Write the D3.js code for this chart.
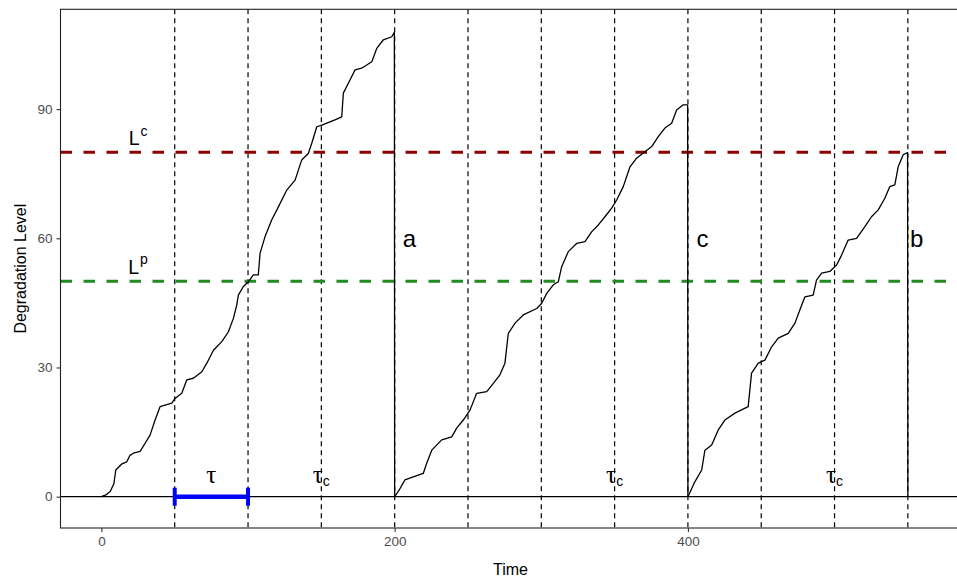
<!DOCTYPE html>
<html>
<head>
<meta charset="utf-8">
<script src="https://cdn.jsdelivr.net/npm/d3@7"></script>
<style>
  body { margin: 0; background: #fff; }
  svg { display: block; font-family: "Liberation Sans", Arial, sans-serif; }
</style>
</head>
<body>
<div id="chart"></div>
<script>
// degradation path, one array per renewal cycle: [time, level]
var cycle1 = [[0,0],[3,0.4],[6,1.2],[8.5,3],[9.8,6.2],[13.9,7.6],[17.3,8.1],[19.5,9.6],[21.8,10.1],[26.4,10.5],[29.8,12.4],
  [33.2,14.3],[36.6,17.8],[40,20.9],[48,21.7],[50.2,22.8],[54.8,24],[58.2,27.1],[62.7,27.5],
  [68.5,29],[71.9,31],[76.4,34],[82.1,36],[86.6,38.3],[90,41.4],[92.3,44.5],[93.4,46.8],
  [96.8,48.8],[100.2,49.9],[103.6,51.5],[107,51.5],[108.2,56.5],[111.6,60.4],[116.2,64.3],
  [120.7,67.3],[126.4,71.2],[132.1,73.5],[136.6,78.2],[141.1,79.7],[143.4,82],[146.9,85.9],
  [150.3,86.3],[159.3,87.5],[163.9,88.2],[165,93.7],[168.4,96],[173,99.1],[177.5,99.5],
  [184.4,101],[187.8,104.1],[192.3,106.1],[198,106.8],[199.8,107.8],[200,0]];
var cycle2 = [[200,0],[203,1.5],[207,3.9],[212.7,4.6],[219.5,5.4],[221.9,7.8],[225.3,10.8],
  [232.1,13.2],[238.9,13.9],[242.3,15.9],[246.8,17.8],[251.4,20.1],[255.9,24],[262.8,24.4],
  [267.3,26.3],[271.8,28.3],[275.2,31],[277.5,37.9],[282.1,40.3],[287.7,42.2],[296.9,43.7],
  [300.3,44.9],[303.7,47.2],[308.2,49.2],[311.6,49.9],[313.9,53.4],[318.4,56.9],[324.1,58.8],
  [329.8,59.2],[334.3,61.5],[338.9,63.1],[343.4,65],[348,67],[351.4,68.9],[355.9,72],
  [360.5,76.6],[365,78.6],[370.7,80.1],[375.3,81.3],[379.8,83.6],[384.3,85.6],[388.9,86.7],
  [392.3,89.8],[396.8,91],[399.8,91],[400,0]];
var cycle3 = [[400,0],[404.8,3.5],[409.4,6.2],[411.6,10.8],[416.2,12],[420.7,15.5],[425.2,17.8],
  [432.1,19.4],[441.1,20.9],[443.4,28.7],[448,31],[452.5,31.7],[457.1,34.8],[461.6,36.8],
  [468.4,37.9],[473,40.3],[476.4,43.4],[479.8,46.4],[485.4,46.8],[487.7,50.3],[491.2,51.9],
  [496.8,52.3],[501.4,53.8],[504.8,56.1],[509.3,59.6],[515,60],[520.7,62.7],[525.2,65],
  [529.8,66.6],[534.3,69.3],[537.7,72],[541.1,72.4],[543.4,76.6],[546.8,79.4],[549.8,79.9],[550,0]];

var inspectTimes = [50, 100, 150, 200, 250, 300, 350, 400, 450, 500, 550];
var thresholdPM = 50, thresholdCM = 80;
var tauBar = [50, 100];
var xTicks = [0, 200, 400], yTicks = [0, 30, 60, 90];
var eventLabels = [{t: 210, v: 60, text: "a"}, {t: 410, v: 60, text: "c"}, {t: 556, v: 60, text: "b"}];
var tauLabels = [{t: 75, sub: ""}, {t: 150, sub: "c"}, {t: 350, sub: "c"}, {t: 500, sub: "c"}];

var width = 957, height = 577;
var panel = {left: 60.5, right: 960.5, top: 9.3, bottom: 528};

var svg = d3.select("#chart").append("svg")
  .attr("width", width).attr("height", height);

// ggplot style 5% expansion
var xData = [0, 558], yData = [-1.8, 107.7];
var xs = (xData[1] - xData[0]) * 0.05, ys = (yData[1] - yData[0]) * 0.05;
var x = d3.scaleLinear().domain([xData[0] - xs, xData[1] + xs]).range([panel.left, panel.right]);
var y = d3.scaleLinear().domain([yData[0] - ys, yData[1] + ys]).range([panel.bottom, panel.top]);

svg.append("clipPath").attr("id", "clip").append("rect")
  .attr("x", panel.left).attr("y", panel.top)
  .attr("width", panel.right - panel.left).attr("height", panel.bottom - panel.top);

var plot = svg.append("g").attr("clip-path", "url(#clip)");

// y = 0 line
plot.append("line")
  .attr("x1", panel.left).attr("x2", panel.right)
  .attr("y1", y(0)).attr("y2", y(0))
  .attr("stroke", "black").attr("stroke-width", 1.1);

// inspection times
plot.selectAll(".insp").data(inspectTimes).enter().append("line")
  .attr("class", "insp")
  .attr("x1", d => x(d)).attr("x2", d => x(d))
  .attr("y1", panel.top).attr("y2", panel.bottom)
  .attr("stroke", "black").attr("stroke-width", 1.2)
  .attr("stroke-dasharray", "5,4");

// thresholds
plot.append("line")
  .attr("x1", panel.left).attr("x2", panel.right)
  .attr("y1", y(thresholdCM)).attr("y2", y(thresholdCM))
  .attr("stroke", "#8B0000").attr("stroke-width", 3)
  .attr("stroke-dasharray", "11.5,11.5");
plot.append("line")
  .attr("x1", panel.left).attr("x2", panel.right)
  .attr("y1", y(thresholdPM)).attr("y2", y(thresholdPM))
  .attr("stroke", "#228B22").attr("stroke-width", 3)
  .attr("stroke-dasharray", "11.5,11.5");

// degradation path
var line = d3.line().x(d => x(d[0])).y(d => y(d[1]));
[cycle1, cycle2, cycle3].forEach(function(c) {
  plot.append("path").datum(c)
    .attr("d", line)
    .attr("fill", "none").attr("stroke", "black")
    .attr("stroke-width", 1.3).attr("stroke-linejoin", "round");
});

// tau interval bar
plot.append("line")
  .attr("x1", x(tauBar[0])).attr("x2", x(tauBar[1]))
  .attr("y1", y(0)).attr("y2", y(0))
  .attr("stroke", "#0000FF").attr("stroke-width", 4.5);
plot.selectAll(".cap").data(tauBar).enter().append("line")
  .attr("x1", d => x(d)).attr("x2", d => x(d))
  .attr("y1", y(2.1)).attr("y2", y(-2.1))
  .attr("stroke", "#0000FF").attr("stroke-width", 4);

// threshold labels
function supLabel(v, sup) {
  var t = plot.append("text")
    .attr("x", x(25)).attr("y", y(v)).attr("dy", "0.35em")
    .attr("text-anchor", "middle").attr("font-size", "19.5px").attr("fill", "black");
  t.append("tspan").text("L");
  t.append("tspan").attr("font-size", "14px").attr("dy", "-0.65em").attr("dx", "1").text(sup);
}
supLabel(83.3, "c");
supLabel(53.4, "p");

plot.selectAll(".ev").data(eventLabels).enter().append("text")
  .attr("x", d => x(d.t)).attr("y", d => y(d.v)).attr("dy", "0.35em")
  .attr("text-anchor", "middle").attr("font-size", "24px")
  .text(d => d.text);

tauLabels.forEach(function(d) {
  var t = plot.append("text")
    .attr("x", x(d.t)).attr("y", y(5)).attr("dy", "0.3em")
    .attr("text-anchor", "middle").attr("font-size", "25px");
  t.append("tspan").attr("font-family", "'Liberation Serif', serif").text("\u03C4");
  if (d.sub) t.append("tspan").attr("font-size", "14px").attr("dy", "0.25em").text(d.sub);
});

// panel border
svg.append("rect")
  .attr("x", panel.left).attr("y", panel.top)
  .attr("width", panel.right - panel.left).attr("height", panel.bottom - panel.top)
  .attr("fill", "none").attr("stroke", "#222").attr("stroke-width", 1.1);

// axes
var xAxis = svg.append("g").attr("transform", `translate(0,${panel.bottom})`)
  .call(d3.axisBottom(x).tickValues(xTicks).tickSize(4).tickPadding(4));
var yAxis = svg.append("g").attr("transform", `translate(${panel.left},0)`)
  .call(d3.axisLeft(y).tickValues(yTicks).tickSize(4).tickPadding(4));
[xAxis, yAxis].forEach(function(a) {
  a.select(".domain").remove();
  a.selectAll(".tick line").attr("stroke", "#333").attr("stroke-width", 1.1);
  a.selectAll(".tick text").attr("fill", "#4D4D4D")
    .attr("font-size", "13.5px").attr("font-family", "'Liberation Sans', Arial, sans-serif");
});

svg.append("text")
  .attr("x", (panel.left + panel.right) / 2).attr("y", 575)
  .attr("text-anchor", "middle").attr("font-size", "16px")
  .text("Time");
svg.append("text")
  .attr("transform", `translate(26,${(panel.top + panel.bottom) / 2}) rotate(-90)`)
  .attr("text-anchor", "middle").attr("font-size", "16px")
  .text("Degradation Level");
</script>
</body>
</html>
